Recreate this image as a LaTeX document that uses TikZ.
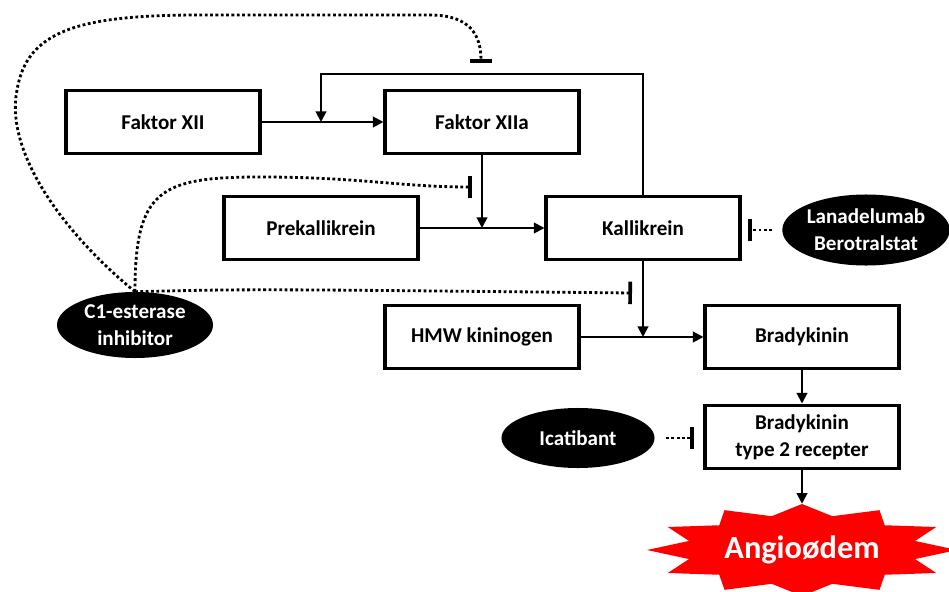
\documentclass[tikz,border=0pt]{standalone}
\usepackage{fontspec}
\setmainfont{Carlito}
\usepackage{xcolor}
\usepackage{tikz}
\usetikzlibrary{arrows.meta, shapes.geometric}

\begin{document}
\begin{tikzpicture}[
    x=0.025cm, y=-0.025cm,
    every node/.style={font=\bfseries\fontsize{15}{19}\selectfont, align=center},
    box/.style={draw, line width=2.4pt, minimum width=4.84cm, minimum height=1.59cm, inner sep=2pt},
    drug/.style={ellipse, fill=black, text=white, inner sep=0pt},
    conn/.style={line width=1.4pt, -{Triangle[length=7.5pt, width=7.5pt]}},
    inhib/.style={line width=2pt, dash pattern=on 2pt off 1.8pt,
                  -{Bar[width=16pt, line width=2.6pt]}},
    >=Stealth
  ]

  % picture frame: 949 x 592 px, one unit = one pixel
  \useasboundingbox (0,0) rectangle (949,592);
  \clip (0,0) rectangle (949,592);

  % ── Cascade (boxes) ─────────────────────────────────────────────────────
  \node[box] (fxii)  at (163,122) {Faktor XII};
  \node[box] (fxiia) at (482,122) {Faktor XIIa};
  \node[box] (prek)  at (321,228) {Prekallikrein};
  \node[box] (kal)   at (643,228) {Kallikrein};
  \node[box] (hmw)   at (482,337) {HMW kininogen};
  \node[box] (brady) at (802,337) {Bradykinin};
  \node[box] (bkr)   at (802,437) {Bradykinin\\type 2 recepter};

  % ── Drugs (black ovals) ─────────────────────────────────────────────────
  \node[drug, minimum width=3.9cm,  minimum height=1.65cm]  (c1)   at (135,325) {C1-esterase\\inhibitor};
  \node[drug, minimum width=3.95cm, minimum height=1.775cm] (lan)  at (866,230) {Lanadelumab\\Berotralstat};
  \node[drug, minimum width=3.825cm, minimum height=1.5cm]  (icat) at (578,438) {Icatibant};

  % ── Angioødem (red star, 12 points) ─────────────────────────────────────
  \fill[red] (802,550) +(0:155 and 46)
    \foreach \a in {0,30,...,330} {-- +(\a:155 and 46) -- +(\a+15:117 and 35)} -- cycle;
  \node[ellipse, minimum width=7.75cm, minimum height=2.3cm, text=white,
        font=\bfseries\fontsize{23}{27}\selectfont] (angio) at (802,550) {Angioødem};

  % junctions on the lines and feedback corner
  \coordinate (fb) at (321,74);
  \coordinate (j1) at (321,122);
  \coordinate (j2) at (482,228);
  \coordinate (j3) at (643,337);

  % inhibitor bar positions
  \coordinate (b1) at (481,63);
  \coordinate (b2) at (472,187);
  \coordinate (b3) at (632,293);
  \coordinate (b4) at (748,230);
  \coordinate (b5) at (694,438);

  % ── Activation (solid arrows) ───────────────────────────────────────────
  \draw[conn] (fxii) -- (fxiia);
  \draw[conn] (kal.north) |- (fb) -- (j1);   % kallikrein feeds back on XII -> XIIa
  \draw[conn] (fxiia) -- (j2);
  \draw[conn] (prek) -- (kal);
  \draw[conn] (kal) -- (j3);
  \draw[conn] (hmw) -- (brady);
  \draw[conn] (brady) -- (bkr);
  \draw[conn] (bkr) -- (angio);

  % ── Inhibition (dotted, bar ends) ───────────────────────────────────────
  \draw[inhib] (c1.north) .. controls (60,230) and (5,150) .. (17,90)
    .. controls (27,30) and (80,15) .. (200,15) -- (430,15)
    .. controls (470,15) and (481,35) .. (b1);
  \draw[inhib] (c1.north) .. controls (135,190) and (160,177) .. (260,177)
    .. controls (360,177) and (400,187) .. (b2);
  \draw[inhib] (c1.north) .. controls (250,289) .. (b3);
  \draw[inhib, shorten <=7pt] (lan) -- (b4);
  \draw[inhib, shorten <=8pt] (icat) -- (b5);

\end{tikzpicture}
\end{document}
